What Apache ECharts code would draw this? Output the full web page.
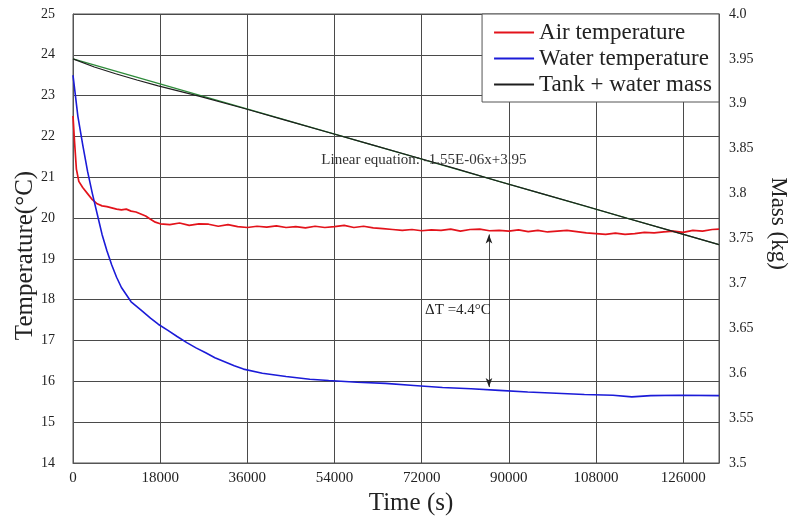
<!DOCTYPE html>
<html>
<head>
<meta charset="utf-8">
<script src="https://cdn.jsdelivr.net/npm/echarts@6/dist/echarts.min.js"></script>
<style>
html, body { margin: 0; padding: 0; background: #fff; }
#chart { width: 795px; height: 519px; }
</style>
</head>
<body>
<div id="chart"></div>
<script>
// air temperature (red)
var airTime = [0, 300, 700, 1200, 2000, 3000, 4000, 5000, 6000, 7000, 8000, 9000, 10000, 11000, 12000, 13000, 14000, 15000, 16000, 17000,
  18000, 20000, 22000, 24000, 26000, 28000, 30000, 32000, 34000, 36000, 38000, 40000, 42000, 44000, 46000, 48000, 50000, 52000, 54000, 56000,
  58000, 60000, 62000, 64000, 66000, 68000, 70000, 72000, 74000, 76000, 78000, 80000, 82000, 84000, 86000, 88000, 90000, 92000, 94000, 96000,
  98000, 100000, 102000, 104000, 106000, 108000, 110000, 112000, 114000, 116000, 118000, 120000, 122000, 124000, 126000, 128000, 130000, 132000, 133400];
var airTemp = [22.5, 21.9, 21.2, 20.9, 20.75, 20.6, 20.45, 20.35, 20.3, 20.28, 20.25, 20.22, 20.2, 20.22, 20.17, 20.15, 20.1, 20.05, 19.97, 19.9,
  19.86, 19.84, 19.88, 19.82, 19.86, 19.85, 19.8, 19.84, 19.79, 19.77, 19.8, 19.78, 19.81, 19.77, 19.79, 19.76, 19.8, 19.77, 19.79, 19.82,
  19.77, 19.8, 19.76, 19.74, 19.72, 19.7, 19.72, 19.69, 19.71, 19.7, 19.73, 19.68, 19.72, 19.73, 19.69, 19.7, 19.68, 19.71, 19.67, 19.7,
  19.66, 19.68, 19.7, 19.67, 19.64, 19.62, 19.6, 19.63, 19.6, 19.62, 19.65, 19.64, 19.66, 19.68, 19.65, 19.7, 19.68, 19.72, 19.73];

// water temperature (blue)
var waterTime = [0, 500, 1000, 2000, 3000, 4000, 5000, 6000, 7000, 8000, 9000, 10000, 12000, 14000, 16000, 17600, 19600, 21500, 23500, 25400,
  27400, 29300, 31300, 33300, 35200, 39100, 44000, 48900, 52800, 58700, 64500, 70400, 76300, 82200, 88000, 93900, 99800, 105600, 111500, 115400,
  119300, 125200, 133400];
var waterTemp = [23.5, 23.0, 22.5, 21.8, 21.15, 20.6, 20.1, 19.6, 19.2, 18.85, 18.55, 18.3, 17.95, 17.75, 17.55, 17.4, 17.25, 17.1, 16.95, 16.82,
  16.7, 16.58, 16.48, 16.38, 16.3, 16.2, 16.12, 16.05, 16.02, 15.98, 15.95, 15.9, 15.85, 15.82, 15.78, 15.74, 15.71, 15.68, 15.66, 15.62,
  15.65, 15.66, 15.65];

// tank + water mass (black) and its linear fit (green)
var massTime = [0, 4400, 8800, 13200, 17600, 26400, 35200, 44000, 52800, 61600, 70400, 79200, 88000, 96800, 105600, 114400, 123200, 133400];
var massKg = [3.95, 3.941, 3.9335, 3.9265, 3.920, 3.908, 3.895, 3.8815, 3.868, 3.8545, 3.841, 3.8275, 3.8135, 3.800, 3.7865, 3.7725, 3.759, 3.7432];
var fitTime = [0, 133400];
var fitKg = [3.95, 3.7432];

var serif = 'Liberation Serif';

function pairs(xs, ys) {
  var out = [];
  for (var i = 0; i < xs.length; i++) out.push([xs[i], ys[i]]);
  return out;
}

var myChart = echarts.init(document.getElementById('chart'));
var option = {
  animation: false,
  backgroundColor: '#fff',
  grid: { left: 73, right: 76, top: 14, bottom: 56, outerBoundsMode: 'none', show: true, borderColor: '#555', borderWidth: 1 },
  legend: {
    data: ['Air temperature', 'Water temperature', 'Tank + water mass'],
    orient: 'vertical',
    right: 76, top: 14,
    backgroundColor: '#fff',
    borderColor: '#555', borderWidth: 1,
    padding: [7, 7, 6, 12],
    itemGap: 3,
    icon: 'rect',
    itemWidth: 40, itemHeight: 2,
    textStyle: { fontFamily: serif, fontSize: 23, color: '#222' }
  },
  xAxis: {
    type: 'value', min: 0, max: 133400, interval: 18000,
    name: 'Time (s)', nameLocation: 'middle', nameGap: 26,
    nameTextStyle: { fontFamily: serif, fontSize: 25, color: '#222', padding: [0, 0, 0, 30] },
    axisLine: { show: true, lineStyle: { color: '#555' } },
    axisTick: { show: false },
    axisLabel: { fontFamily: serif, fontSize: 15, color: '#222', margin: 8, showMaxLabel: false,
      formatter: function (v) { return String(v); } },
    splitLine: { show: true, lineStyle: { color: '#4a4a4a', width: 1 } }
  },
  yAxis: [{
    type: 'value', min: 14, max: 25, interval: 1,
    name: 'Temperature(°C)', nameLocation: 'middle', nameGap: 35, nameMoveOverlap: false,
    nameTextStyle: { fontFamily: serif, fontSize: 25, color: '#222', padding: [0, 0, 0, -34] },
    axisLine: { show: true, lineStyle: { color: '#555' } },
    axisTick: { show: false },
    axisLabel: { fontFamily: serif, fontSize: 14, color: '#222', margin: 18 },
    splitLine: { show: true, lineStyle: { color: '#4a4a4a', width: 1 } }
  }, {
    type: 'value', min: 3.5, max: 4.0, interval: 0.05, position: 'right',
    name: 'Mass (kg)', nameLocation: 'middle', nameGap: 48, nameRotate: -90,
    nameTextStyle: { fontFamily: serif, fontSize: 23, color: '#222', padding: [0, 30, 0, 0] },
    axisLine: { show: true, lineStyle: { color: '#555' } },
    axisTick: { show: false },
    axisLabel: {
      fontFamily: serif, fontSize: 14, color: '#222', margin: 10,
      formatter: function (v) { return v === 4 ? '4.0' : String(Math.round(v * 100) / 100); }
    },
    splitLine: { show: false }
  }],
  series: [{
    name: 'Air temperature', type: 'line', symbol: 'none', data: pairs(airTime, airTemp),
    lineStyle: { color: '#e3131b', width: 1.7 }, itemStyle: { color: '#e3131b' }, z: 3
  }, {
    name: 'Water temperature', type: 'line', symbol: 'none', data: pairs(waterTime, waterTemp),
    lineStyle: { color: '#1b1bd8', width: 1.6 }, itemStyle: { color: '#1b1bd8' }, z: 3,
    markLine: {
      silent: true, symbol: ['arrow', 'arrow'], symbolSize: [5, 9],
      lineStyle: { color: '#222', width: 0.8, type: 'solid' },
      label: { show: false },
      data: [[{ coord: [85900, 19.6] }, { coord: [85900, 15.86] }]]
    },
    markPoint: {
      silent: true, symbol: 'circle', symbolSize: 1, itemStyle: { color: 'rgba(0,0,0,0)' },
      label: { show: true, position: 'inside', formatter: 'ΔT =4.4°C', fontFamily: serif, fontSize: 15, color: '#222' },
      data: [{ coord: [79500, 17.75] }]
    }
  }, {
    name: 'Linear fit', type: 'line', symbol: 'none', yAxisIndex: 1, data: pairs(fitTime, fitKg),
    lineStyle: { color: '#2e8b3a', width: 1.3 }, z: 2,
    markPoint: {
      silent: true, symbol: 'circle', symbolSize: 1, itemStyle: { color: 'rgba(0,0,0,0)' },
      label: { show: true, position: 'inside', formatter: 'Linear equation: -1.55E-06x+3.95', fontFamily: serif, fontSize: 15, color: '#333' },
      data: [{ coord: [72450, 3.837] }]
    }
  }, {
    name: 'Tank + water mass', type: 'line', symbol: 'none', yAxisIndex: 1, data: pairs(massTime, massKg),
    lineStyle: { color: '#1e1e1e', width: 1.2 }, itemStyle: { color: '#1e1e1e' }, z: 3
  }]
};
myChart.setOption(option);
</script>
</body>
</html>
